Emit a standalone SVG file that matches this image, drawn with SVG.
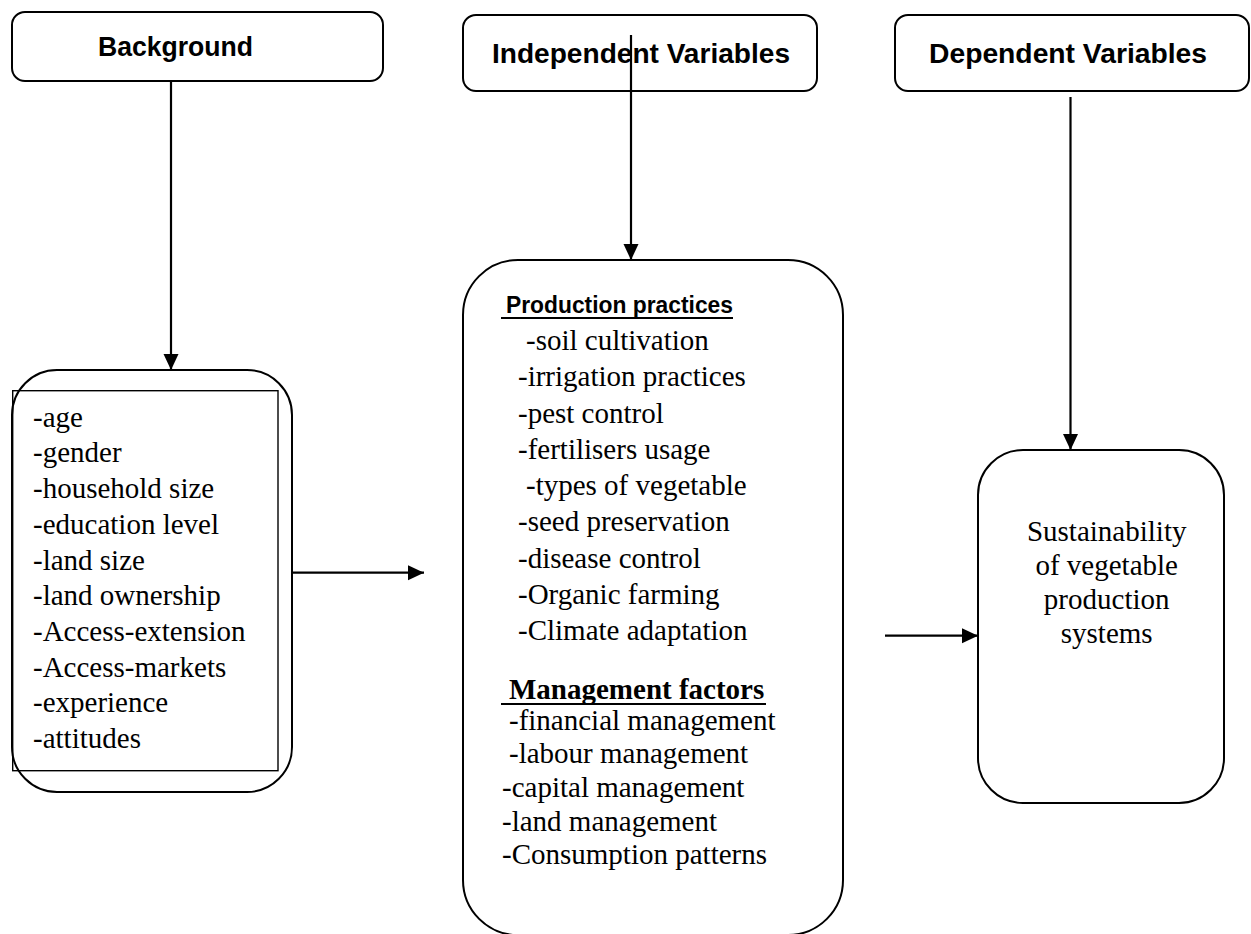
<svg xmlns="http://www.w3.org/2000/svg" width="1251" height="934" viewBox="0 0 1251 934">
<style>
.box{fill:#fff;stroke:#000;stroke-width:2}
.thin{fill:none;stroke:#000;stroke-width:1.4}
.hdr{font-family:"Liberation Sans",Arial,sans-serif;font-weight:bold;font-size:28px;fill:#000}
.sub{font-family:"Liberation Sans",Arial,sans-serif;font-weight:bold;font-size:23px;fill:#000}
.t{font-family:"Liberation Serif","Times New Roman",serif;font-size:29px;fill:#000}
.tb{font-family:"Liberation Serif","Times New Roman",serif;font-size:29px;font-weight:bold;fill:#000}
.conn{fill:none;stroke:#000;stroke-width:2.2}
.ul{stroke:#000;stroke-width:2}
</style>
<defs>
<marker id="ah" markerUnits="userSpaceOnUse" markerWidth="17" markerHeight="16" refX="16" refY="7.5" orient="auto">
<path d="M0,0 L16,7.5 L0,15 z" fill="#000"/>
</marker>
</defs>
<rect width="1251" height="934" fill="#fff"/>

<g id="background">
<rect class="box" x="12" y="12" width="371" height="69" rx="13"/>
<text class="hdr" x="98" y="56" textLength="155" lengthAdjust="spacingAndGlyphs">Background</text>
</g>

<g id="independent">
<rect class="box" x="463" y="15" width="354" height="76" rx="13"/>
<text class="hdr" x="492" y="63" textLength="298" lengthAdjust="spacingAndGlyphs">Independent Variables</text>
</g>

<g id="dependent">
<rect class="box" x="895" y="15" width="354" height="76" rx="13"/>
<text class="hdr" x="929" y="63" textLength="278" lengthAdjust="spacingAndGlyphs">Dependent Variables</text>
</g>

<g id="background-list">
<rect class="box" x="12" y="370" width="280" height="422" rx="45"/>
<rect class="thin" x="12.7" y="390.7" width="265.3" height="380" fill="#fff"/>
<text class="t" x="33" y="426.7">-age</text>
<text class="t" x="33" y="462.4">-gender</text>
<text class="t" x="33" y="498.1">-household size</text>
<text class="t" x="33" y="533.8">-education level</text>
<text class="t" x="33" y="569.5">-land size</text>
<text class="t" x="33" y="605.2">-land ownership</text>
<text class="t" x="33" y="640.9">-Access-extension</text>
<text class="t" x="33" y="676.6">-Access-markets</text>
<text class="t" x="33" y="712.3">-experience</text>
<text class="t" x="33" y="748">-attitudes</text>
</g>

<g id="practices">
<rect class="box" x="463" y="260" width="380" height="675" rx="55"/>
<text class="sub" x="506" y="313" textLength="227" lengthAdjust="spacingAndGlyphs">Production practices</text>
<line class="ul" x1="501" y1="318" x2="733" y2="318"/>
<text class="t" x="526" y="350">-soil cultivation</text>
<text class="t" x="518" y="386.3">-irrigation practices</text>
<text class="t" x="518" y="422.5">-pest control</text>
<text class="t" x="518" y="458.8">-fertilisers usage</text>
<text class="t" x="526" y="495">-types of vegetable</text>
<text class="t" x="518" y="531.3">-seed preservation</text>
<text class="t" x="518" y="567.5">-disease control</text>
<text class="t" x="518" y="603.8">-Organic farming</text>
<text class="t" x="518" y="640">-Climate adaptation</text>
<text class="tb" x="509" y="699">Management factors</text>
<line class="ul" x1="501" y1="704" x2="766" y2="704"/>
<text class="t" x="509" y="730">-financial management</text>
<text class="t" x="509" y="763">-labour management</text>
<text class="t" x="502" y="797">-capital management</text>
<text class="t" x="502" y="831">-land management</text>
<text class="t" x="502" y="864">-Consumption patterns</text>
</g>

<g id="sustainability">
<rect class="box" x="978" y="450" width="246" height="353" rx="45"/>
<text class="t" x="1106.7" y="541" text-anchor="middle">Sustainability</text>
<text class="t" x="1106.7" y="575" text-anchor="middle">of vegetable</text>
<text class="t" x="1106.7" y="609" text-anchor="middle">production</text>
<text class="t" x="1106.7" y="643" text-anchor="middle">systems</text>
</g>

<g id="connectors">
<line class="conn" x1="171" y1="81" x2="171" y2="370" marker-end="url(#ah)"/>
<line class="conn" x1="631" y1="35" x2="631" y2="260" marker-end="url(#ah)"/>
<line class="conn" x1="1070.5" y1="97" x2="1070.5" y2="450" marker-end="url(#ah)"/>
<line class="conn" x1="292" y1="572.7" x2="424" y2="572.7" marker-end="url(#ah)"/>
<line class="conn" x1="885" y1="635.7" x2="978" y2="635.7" marker-end="url(#ah)"/>
</g>
</svg>
